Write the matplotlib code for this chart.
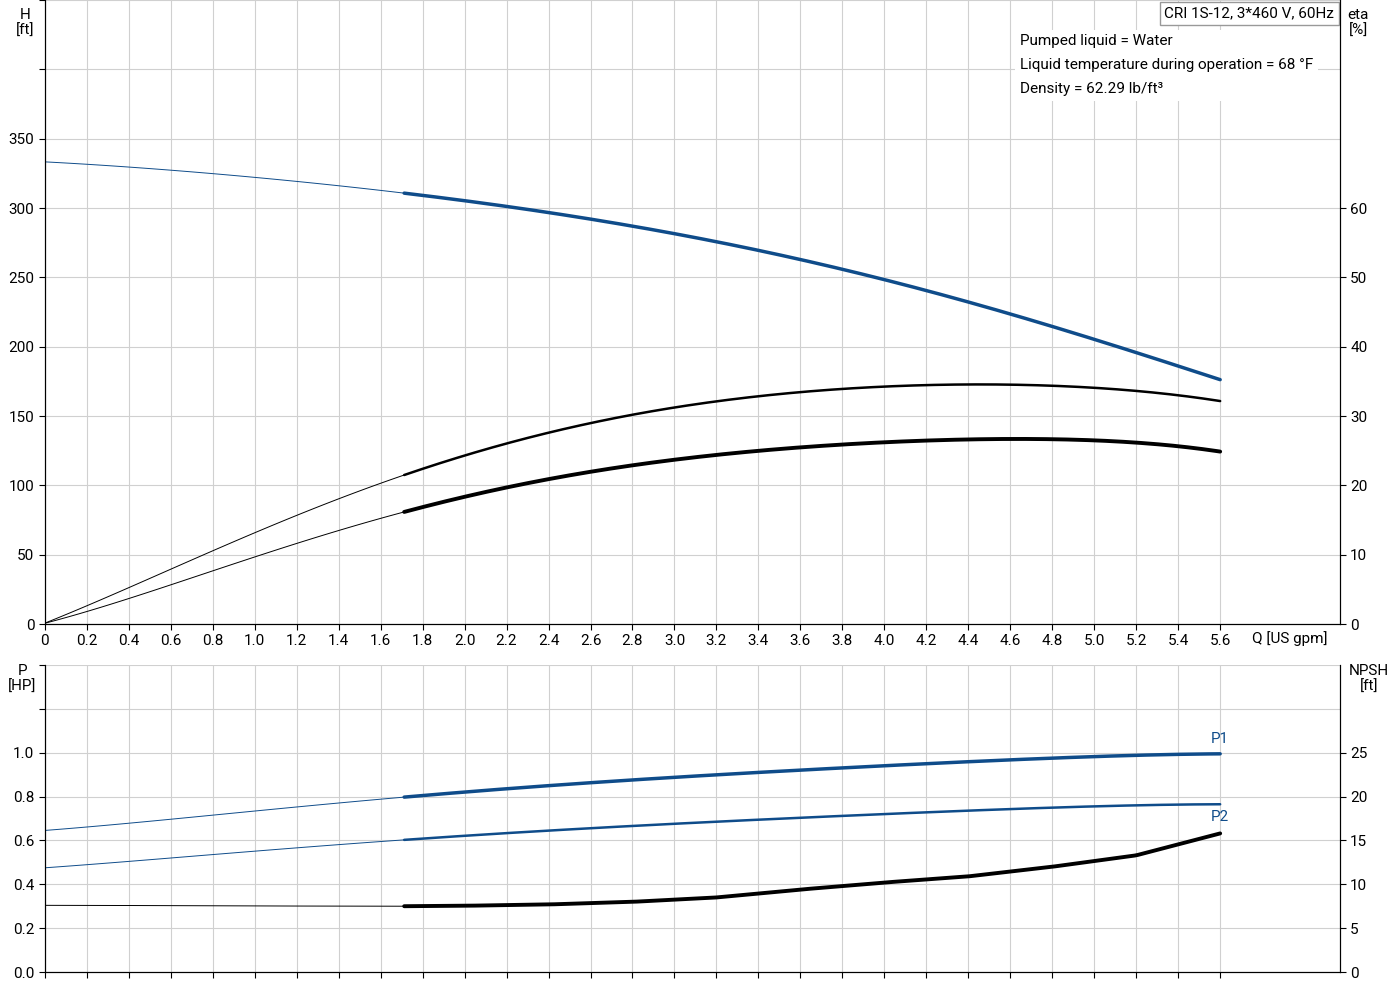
import matplotlib
matplotlib.use("Agg")
import matplotlib.pyplot as plt
import numpy as np

Q = [0, 0.4, 0.8, 1.2, 1.71, 2.0, 2.4, 2.8, 3.2, 3.6, 4.0, 4.4, 4.8, 5.2, 5.6]
H = [333, 330, 325, 319, 310, 305, 297, 288, 276, 262, 248, 232, 215, 196, 176]
eta_total = [0, 5.6, 10.5, 15, 22, 24.5, 27.5, 30, 32, 33.5, 34.3, 34.6, 34.4, 33.5, 32.2]
eta_pump = [0, 4, 7.6, 11, 16.7, 18.5, 20.8, 22.7, 24.3, 25.5, 26.3, 26.7, 26.6, 26.1, 24.9]
P1 = [0.645, 0.68, 0.715, 0.75, 0.80, 0.82, 0.85, 0.875, 0.9, 0.92, 0.94, 0.96, 0.975, 0.988, 0.995]
P2 = [0.475, 0.505, 0.535, 0.565, 0.605, 0.62, 0.645, 0.665, 0.685, 0.705, 0.72, 0.735, 0.75, 0.76, 0.765]
NPSH = [7.6, 7.58, 7.55, 7.52, 7.5, 7.55, 7.7, 8.0, 8.5, 9.4, 10.2, 10.9, 12.0, 13.3, 15.8]
Q_split = 1.71

BLUE = "#0f4c8a"
plt.rcParams['font.family'] = ['Roboto', 'DejaVu Sans']
plt.rcParams['font.size'] = 11

fig = plt.figure(figsize=(14, 10), dpi=100)
ax1 = fig.add_axes([0.032, 0.376, 0.925, 0.624])
ax2 = fig.add_axes([0.032, 0.028, 0.925, 0.307])

def smooth(x, y, deg):
    xs = np.linspace(x[0], x[-1], 400)
    if deg is None:
        return xs, np.interp(xs, x, y)
    c = np.polyfit(x, y, deg)
    return xs, np.polyval(c, xs)

def draw(ax, x, y, color, lw, scale=1.0, deg=5):
    xs, ys = smooth(np.array(x), np.array(y) * scale, deg)
    m = xs <= Q_split + 0.01
    ax.plot(xs[m], ys[m], color=color, lw=0.7)
    ax.plot(xs[xs >= Q_split], ys[xs >= Q_split], color=color, lw=lw, solid_capstyle='round')

xmax = 6.17
for ax in (ax1, ax2):
    ax.set_xlim(0, xmax)
    ax.set_xticks(np.arange(0, 5.61, 0.2))
    ax.grid(True, color="#d0d0d0", lw=0.8)
    ax.tick_params(direction='out', length=4, colors='black', labelsize=11)
    ax.spines['top'].set_visible(False)

# Top
ax1.set_ylim(0, 450)
ax1.set_yticks(np.arange(0, 451, 50))
ax1.set_yticklabels([str(v) if v <= 350 else "" for v in range(0, 451, 50)])
ax1.set_xticklabels(["0"] + ["%.1f" % v for v in np.arange(0.2, 5.61, 0.2)])
draw(ax1, Q, H, BLUE, 2.5)
draw(ax1, Q, eta_total, "black", 1.8, 5)
draw(ax1, Q, eta_pump, "black", 2.8, 5)
ax1r = ax1.twinx()
ax1r.set_ylim(0, 90)
ax1r.set_yticks(np.arange(0, 61, 10))
ax1r.tick_params(direction='out', length=4, labelsize=11)
ax1r.spines['top'].set_visible(False)
fig.text(0.018, 0.992, "H\n[ft]", ha='center', va='top', fontsize=11)
fig.text(0.970, 0.992, "eta\n[%]", ha='center', va='top', fontsize=11)
fig.text(0.9215, 0.361, "Q [US gpm]", ha='center', va='center', fontsize=11)
ax1.text(0.9955, 0.99, "CRI 1S-12, 3*460 V, 60Hz", transform=ax1.transAxes, ha='right', va='top',
         fontsize=11, bbox=dict(boxstyle='square,pad=0.3', fc='white', ec='#999999'))
ax1.text(0.753, 0.945, "Pumped liquid = Water\nLiquid temperature during operation = 68 °F\nDensity = 62.29 lb/ft³",
         transform=ax1.transAxes, ha='left', va='top', fontsize=11, linespacing=1.9,
         bbox=dict(boxstyle='square,pad=0.3', fc='white', ec='none'))

# Bottom
ax2.set_ylim(0, 1.4)
ax2.set_yticks(np.arange(0, 1.41, 0.2))
ax2.set_yticklabels(["0.0", "0.2", "0.4", "0.6", "0.8", "1.0", "", ""])
ax2.set_xticklabels([])
draw(ax2, Q, P1, BLUE, 2.5)
draw(ax2, Q, P2, BLUE, 1.8)
draw(ax2, Q, NPSH, "black", 2.8, 1 / 25, deg=None)
ax2.text(5.6, 1.0 + 0.03, "P1", color=BLUE, ha='center', va='bottom', fontsize=11)
ax2.text(5.6, 0.765 - 0.025, "P2", color=BLUE, ha='center', va='top', fontsize=11)
ax2r = ax2.twinx()
ax2r.set_ylim(0, 35)
ax2r.set_yticks(np.arange(0, 26, 5))
ax2r.tick_params(direction='out', length=4, labelsize=11)
ax2r.spines['top'].set_visible(False)
fig.text(0.016, 0.336, "P\n[HP]", ha='center', va='top', fontsize=11)
fig.text(0.978, 0.336, "NPSH\n[ft]", ha='center', va='top', fontsize=11)

fig.savefig("out.png", dpi=100)
